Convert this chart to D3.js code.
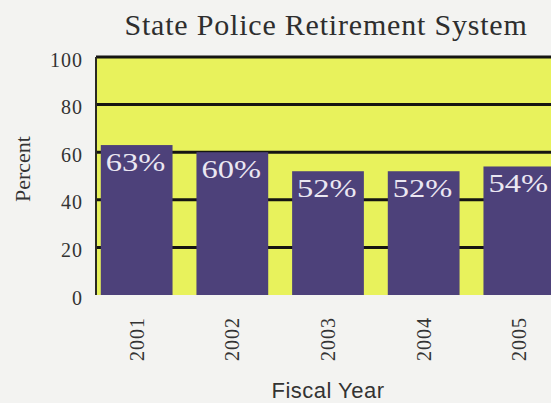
<!DOCTYPE html>
<html>
<head>
<meta charset="utf-8">
<script src="https://cdn.jsdelivr.net/npm/d3@7"></script>
<style>
  html, body { margin: 0; padding: 0; background: #f3f3f1; }
  svg { display: block; }
</style>
</head>
<body>
<svg id="chart" width="551" height="403"></svg>
<script>
// Funded ratio by fiscal year
const years = ["2001", "2002", "2003", "2004", "2005"];
const percents = [63, 60, 52, 52, 54];
const yTicks = [0, 20, 40, 60, 80, 100];
const gridValues = [20, 40, 60, 80];

const svg = d3.select("#chart");
const plot = { left: 96, right: 560, top: 57, bottom: 295 };

const x = d3.scaleBand()
  .domain(years)
  .range([plot.left, plot.right])
  .paddingInner(0.25)
  .paddingOuter(0.05);

const y = d3.scaleLinear()
  .domain([0, 100])
  .range([plot.bottom, plot.top]);

const serif = "'Liberation Serif', 'Times New Roman', serif";
const sans = "'Liberation Sans', Arial, sans-serif";

// plot background
svg.append("rect")
  .attr("x", plot.left)
  .attr("y", plot.top)
  .attr("width", plot.right - plot.left)
  .attr("height", plot.bottom - plot.top)
  .attr("fill", "#e8f25c");

// horizontal gridlines
svg.append("g")
  .selectAll("line")
  .data(gridValues)
  .join("line")
  .attr("x1", plot.left)
  .attr("x2", plot.right)
  .attr("y1", d => y(d))
  .attr("y2", d => y(d))
  .attr("stroke", "#151512")
  .attr("stroke-width", 3);

// top and left frame
svg.append("line")
  .attr("x1", plot.left).attr("x2", plot.right)
  .attr("y1", y(100)).attr("y2", y(100))
  .attr("stroke", "#151512").attr("stroke-width", 3);
svg.append("line")
  .attr("x1", plot.left).attr("x2", plot.left)
  .attr("y1", y(100)).attr("y2", y(0))
  .attr("stroke", "#2a2a22").attr("stroke-width", 2);

// bars
svg.append("g")
  .selectAll("rect")
  .data(years)
  .join("rect")
  .attr("x", d => x(d))
  .attr("y", (d, i) => y(percents[i]))
  .attr("width", x.bandwidth())
  .attr("height", (d, i) => y(0) - y(percents[i]))
  .attr("fill", "#4d417a");

// value labels inside bars
svg.append("g")
  .selectAll("text")
  .data(years)
  .join("text")
  .attr("transform", (d, i) => `translate(${x(d) + 5},${y(percents[i]) + 26}) scale(1.3,1)`)
  .attr("font-family", serif)
  .attr("font-size", 25)
  .attr("fill", "#ebe7f2")
  .text((d, i) => percents[i] + "%");

// y axis labels
const yAxis = d3.axisLeft(y).tickValues(yTicks).tickSize(0).tickPadding(13);
const gy = svg.append("g")
  .attr("transform", `translate(${plot.left},0)`)
  .call(yAxis);
gy.select(".domain").remove();
gy.selectAll("text")
  .attr("font-family", serif)
  .attr("font-size", 20)
  .attr("fill", "#333")
  .attr("letter-spacing", 1)
  .attr("dy", "0.45em");

// x axis labels (rotated)
const xAxis = d3.axisBottom(x).tickSize(0).tickPadding(0);
const gx = svg.append("g")
  .attr("transform", `translate(0,${plot.bottom})`)
  .call(xAxis);
gx.select(".domain").remove();
gx.selectAll("text")
  .attr("font-family", serif)
  .attr("font-size", 20)
  .attr("fill", "#333")
  .attr("letter-spacing", 1)
  .attr("text-anchor", "end")
  .attr("transform", "translate(0,22) rotate(-90)")
  .attr("x", 0)
  .attr("y", 0)
  .attr("dy", "0.35em");

// title
svg.append("text")
  .attr("x", 326)
  .attr("y", 35)
  .attr("text-anchor", "middle")
  .attr("font-family", serif)
  .attr("font-size", 30)
  .attr("fill", "#2e2e2e")
  .attr("letter-spacing", 0.8)
  .text("State Police Retirement System");

// y axis title
svg.append("text")
  .attr("transform", "translate(30,169) rotate(-90)")
  .attr("text-anchor", "middle")
  .attr("font-family", serif)
  .attr("font-size", 22)
  .attr("fill", "#333")
  .text("Percent");

// x axis title
svg.append("text")
  .attr("x", 328)
  .attr("y", 398)
  .attr("text-anchor", "middle")
  .attr("font-family", sans)
  .attr("font-size", 22)
  .attr("fill", "#333")
  .attr("letter-spacing", 0.5)
  .text("Fiscal Year");
</script>
</body>
</html>
